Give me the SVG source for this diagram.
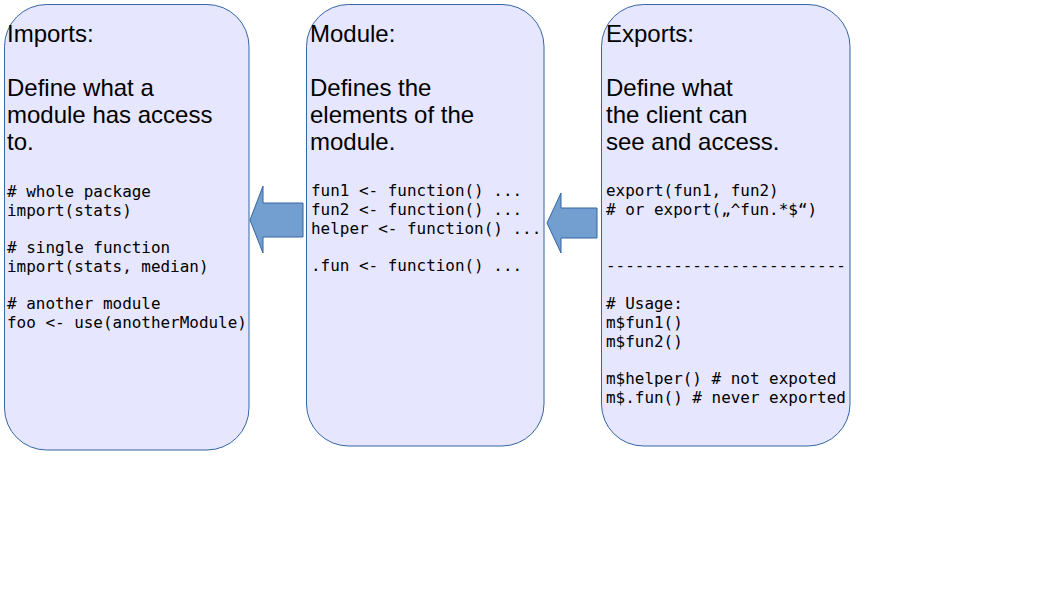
<svg xmlns="http://www.w3.org/2000/svg" width="1058" height="595" viewBox="0 0 1058 595">
<style>
.box{fill:#e6e6ff;stroke:#3465a4;stroke-width:1}
.arrow{fill:#729fcf;stroke:#3465a4;stroke-width:1}
.t{font-family:"Liberation Sans",Arial,sans-serif;font-size:24px;fill:#000}
.c{font-family:"DejaVu Sans Mono",monospace;font-size:15.95px;fill:#000}
</style>
<rect width="1058" height="595" fill="#fff"/>
<g id="imports">
<rect class="box" x="4.5" y="4.5" width="244.5" height="445.5" rx="42" ry="42"/>
<text class="t" x="7" y="42">Imports:</text>
<text class="t" x="7" y="96">Define what a</text>
<text class="t" x="7" y="123">module has access</text>
<text class="t" x="7" y="150">to.</text>
<text class="c" x="7" y="197"># whole package</text>
<text class="c" x="7" y="216">import(stats)</text>
<text class="c" x="7" y="253"># single function</text>
<text class="c" x="7" y="272">import(stats, median)</text>
<text class="c" x="7" y="309"># another module</text>
<text class="c" x="7" y="328">foo &lt;- use(anotherModule)</text>
</g>
<g id="module">
<rect class="box" x="306.5" y="4.5" width="237.5" height="441.5" rx="42" ry="42"/>
<text class="t" x="310" y="42">Module:</text>
<text class="t" x="310" y="96">Defines the</text>
<text class="t" x="310" y="123">elements of the</text>
<text class="t" x="310" y="150">module.</text>
<text class="c" x="311" y="196">fun1 &lt;- function() ...</text>
<text class="c" x="311" y="215">fun2 &lt;- function() ...</text>
<text class="c" x="311" y="234">helper &lt;- function() ...</text>
<text class="c" x="311" y="271">.fun &lt;- function() ...</text>
</g>
<g id="exports">
<rect class="box" x="601.5" y="4.5" width="248.5" height="441.5" rx="42" ry="42"/>
<text class="t" x="606" y="42">Exports:</text>
<text class="t" x="606" y="96">Define what</text>
<text class="t" x="606" y="123">the client can</text>
<text class="t" x="606" y="150">see and access.</text>
<text class="c" x="606" y="196">export(fun1, fun2)</text>
<text class="c" x="606" y="215"># or export(„^fun.*$“)</text>
<text class="c" x="606" y="271">-------------------------</text>
<text class="c" x="606" y="309"># Usage:</text>
<text class="c" x="606" y="328">m$fun1()</text>
<text class="c" x="606" y="347">m$fun2()</text>
<text class="c" x="606" y="384">m$helper() # not expoted</text>
<text class="c" x="606" y="403">m$.fun() # never exported</text>
</g>
<g id="connectors">
<polygon class="arrow" points="250,220 263,186 263,203 303,203 303,237 263,237 263,253"/>
<polygon class="arrow" points="547,223 561,193 561,208 597,208 597,238 561,238 561,253"/>
</g>
</svg>
